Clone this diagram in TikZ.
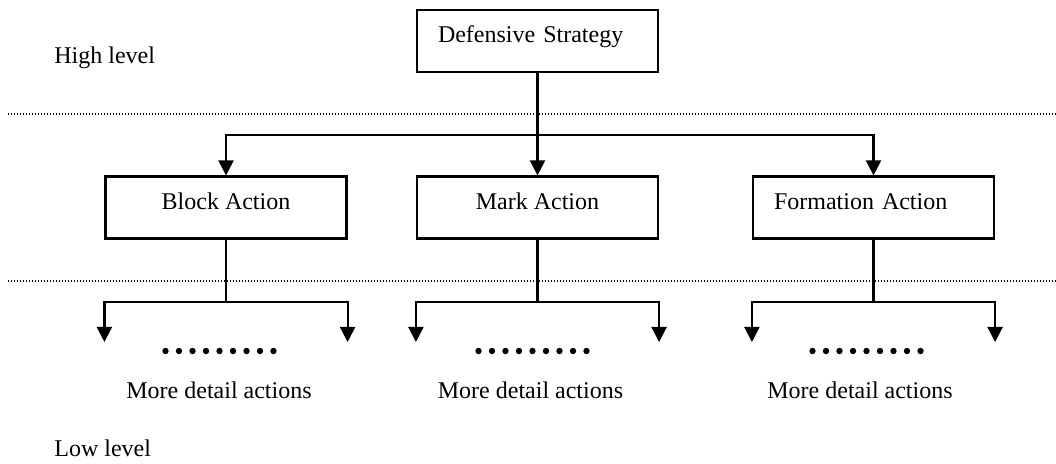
\documentclass[tikz,border=0pt]{standalone}
\usepackage{fontspec}
\setmainfont{Liberation Serif}
\usetikzlibrary{positioning,arrows.meta}

\begin{document}
\begin{tikzpicture}[
    x=0.5pt,y=-0.5pt,
    font=\fontsize{12}{14}\selectfont,
    action/.style={rectangle,draw,line width=1.1pt,inner sep=0pt,minimum width=120.5pt,minimum height=31pt,text height=9pt,text depth=7pt},
    leftaction/.style={action,align=left,text width=99.5pt,inner xsep=10.5pt},
    arr/.style={line width=1.1pt,-{Triangle[length=7.5pt,width=7.5pt]}},
    link/.style={line width=1.1pt},
    levelline/.style={line width=0.6pt,dash pattern=on 0.6pt off 0.9pt}
    ]
    \useasboundingbox (0,0) rectangle (1056,464);

    % levels
    \node(high) [anchor=base west,inner sep=0pt] at (54,64) {High level};
    \node(low) [anchor=base west,inner sep=0pt] at (54,457) {Low level};
    \draw[levelline] (8,114) -- (1056,114);
    \draw[levelline] (8,281) -- (1056,281);

    \node(ds) [leftaction] at (537.5,41) {Defensive Strategy};

    \node(block) [action] at (226,207.5) {Block Action};
    \node(mark) [action] at (537.5,207.5) {Mark Action};
    \node(form) [leftaction] at (873.5,207.5) {Formation Action};

    \coordinate(split) at (ds.south |- 0,135);
    \draw[link] (ds) -- (split);
    \draw[arr] (split) -| (block);
    \draw[arr] (split) -- (mark);
    \draw[arr] (split) -| (form);

    \node(dots1) [inner sep=0pt] at (219.5,351) {};
    \node(dots2) [inner sep=0pt] at (532.5,351) {};
    \node(dots3) [inner sep=0pt] at (866.5,351) {};

    \node(more1) at (219,390) {More detail actions};
    \node(more2) at (530.5,390) {More detail actions};
    \node(more3) at (860,390) {More detail actions};

    \foreach \b/\d in {block/dots1,mark/dots2,form/dots3} {
    	\coordinate(\b j) at (\b.south |- 0,302);
    	\coordinate(\b l) at (\b.west |- 0,342);
    	\coordinate(\b r) at (\b.east |- 0,342);
    	\draw[link] (\b) -- (\b j);
    	\draw[arr] (\b j) -| (\b l);
    	\draw[arr] (\b j) -| (\b r);
    	\foreach \i in {0,...,8}
    		\fill ([xshift=\i*6.75pt-27pt]\d.center) circle (1.6pt);
    }

  \end{tikzpicture}
\end{document}
